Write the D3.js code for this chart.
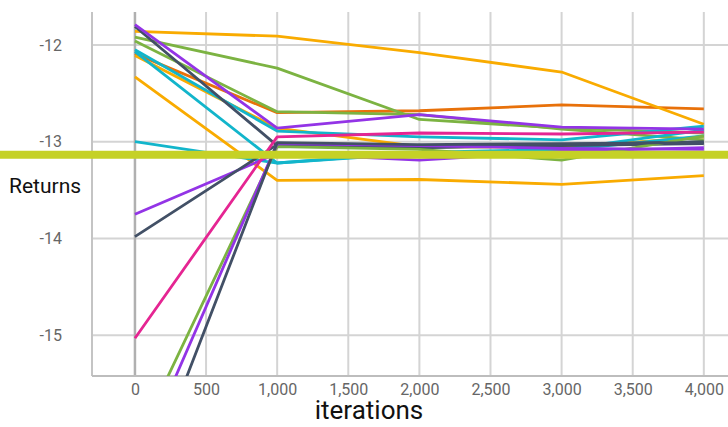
<!DOCTYPE html>
<html>
<head>
<meta charset="utf-8">
<script src="https://cdn.jsdelivr.net/npm/d3@7"></script>
<style>
  html, body { margin: 0; padding: 0; background: #fff; overflow: hidden; }
  text { font-family: Roboto, "Noto Sans", sans-serif; }
</style>
</head>
<body>
<div id="chart"></div>
<script>
// x positions of the evaluation points
const iterations = [0, 1000, 2000, 3000, 4000];

// returns per run
const orangeA    = [-11.86, -11.91, -12.08, -12.28, -12.82];
const purpleA    = [-11.79, -12.86, -12.72, -12.85, -12.87];
const slateA     = [-11.81, -13.04, -13.06, -13.04, -13.02];
const greenA     = [-11.92, -12.24, -12.77, -12.86, -12.91];
const greenB     = [-11.96, -12.69, -12.72, -12.87, -12.98];
const cyanA      = [-12.05, -12.89, -12.95, -12.98, -12.84];
const darkOrange = [-12.09, -12.70, -12.68, -12.62, -12.66];
const orangeB    = [-12.11, -12.86, -13.05, -13.06, -12.95];
const cyanB      = [-12.07, -13.22, -13.11, -13.08, -12.88];
const orangeC    = [-12.33, -13.40, -13.39, -13.44, -13.35];
const cyanC      = [-13.00, -13.22, -13.12, -13.09, -12.94];
const purpleB    = [-13.75, -13.12, -13.19, -13.10, -13.06];
const slateB     = [-13.98, -13.03, -13.06, -13.03, -13.00];
const pinkA      = [-15.03, -12.95, -12.91, -12.92, -12.90];
const greenC     = [-16.14, -13.05, -13.08, -13.19, -12.94];
const purpleC    = [-16.39, -13.02, -13.04, -13.07, -13.08];
const slateC     = [-16.81, -13.01, -13.03, -13.02, -13.01];

// horizontal reference level
const baseline = -13.135;

const xTicks = [0, 500, 1000, 1500, 2000, 2500, 3000, 3500, 4000];
const yTicks = [-12, -13, -14, -15];

const colors = {
  orange: "#f9ab00",
  darkOrange: "#e8710a",
  green: "#7cb342",
  cyan: "#12b5cb",
  purple: "#9334e6",
  pink: "#e52592",
  slate: "#425066",
  ref: "#c5d126"
};

const runs = [
  { values: orangeC, color: colors.orange },
  { values: darkOrange, color: colors.darkOrange },
  { values: orangeA, color: colors.orange },
  { values: orangeB, color: colors.orange },
  { values: greenA, color: colors.green },
  { values: greenB, color: colors.green },
  { values: cyanA, color: colors.cyan },
  { values: cyanB, color: colors.cyan },
  { values: cyanC, color: colors.cyan },
  { values: slateA, color: colors.slate },
  { values: purpleA, color: colors.purple },
  { values: purpleB, color: colors.purple },
  { values: slateB, color: colors.slate },
  { values: pinkA, color: colors.pink },
  { values: greenC, color: colors.green },
  { values: purpleC, color: colors.purple },
  { values: slateC, color: colors.slate }
];

const W = 728, H = 427;
const plot = { left: 92, top: 12, bottom: 376, right: 728 };

const x = d3.scaleLinear().domain([-302, 4170]).range([plot.left, plot.right]);
const y = d3.scaleLinear().domain([-15.42, -11.66]).range([plot.bottom, plot.top]);

const svg = d3.select("#chart").append("svg")
  .attr("width", W)
  .attr("height", H);

svg.append("defs").append("clipPath").attr("id", "plot-clip")
  .append("rect")
  .attr("x", plot.left).attr("y", plot.top)
  .attr("width", plot.right - plot.left).attr("height", plot.bottom - plot.top);

// grid lines
svg.append("g")
  .selectAll("line")
  .data(yTicks)
  .join("line")
  .attr("x1", plot.left).attr("x2", plot.right)
  .attr("y1", d => y(d)).attr("y2", d => y(d))
  .attr("stroke", "#d4d4d4")
  .attr("stroke-width", 2);

svg.append("g")
  .selectAll("line")
  .data(xTicks)
  .join("line")
  .attr("x1", d => x(d)).attr("x2", d => x(d))
  .attr("y1", plot.top).attr("y2", plot.bottom)
  .attr("stroke", d => d === 0 ? "#b0b0b0" : "#d4d4d4")
  .attr("stroke-width", d => d === 0 ? 2.5 : 2);

// left frame line
svg.append("line")
  .attr("x1", plot.left).attr("x2", plot.left)
  .attr("y1", plot.top).attr("y2", plot.bottom)
  .attr("stroke", "#c4c4c4")
  .attr("stroke-width", 2);

// x axis
const xAxis = svg.append("g")
  .attr("transform", `translate(0,${plot.bottom})`)
  .call(d3.axisBottom(x).tickValues(xTicks).tickFormat(d3.format(",")).tickSize(0).tickPadding(8));
xAxis.select(".domain").attr("stroke", "#bdbdbd").attr("stroke-width", 2)
  .attr("d", `M${plot.left},0H${plot.right}`);
xAxis.selectAll("text")
  .attr("fill", "#666")
  .style("font-size", "16px");

// y axis
const yAxis = svg.append("g")
  .attr("transform", `translate(${plot.left},0)`)
  .call(d3.axisLeft(y).tickValues(yTicks).tickFormat(d => String(d)).tickSize(0).tickPadding(30));
yAxis.select(".domain").remove();
yAxis.selectAll("text")
  .attr("fill", "#666")
  .style("font-size", "16px");

// run lines
const line = d3.line()
  .x((d, i) => x(iterations[i]))
  .y(d => y(d));

svg.append("g")
  .attr("clip-path", "url(#plot-clip)")
  .selectAll("path")
  .data(runs)
  .join("path")
  .attr("d", d => line(d.values))
  .attr("fill", "none")
  .attr("stroke", d => d.color)
  .attr("stroke-width", 2.8)
  .attr("stroke-linejoin", "round");

// reference level across the whole width
svg.append("line")
  .attr("x1", 0).attr("x2", W)
  .attr("y1", y(baseline)).attr("y2", y(baseline))
  .attr("stroke", colors.ref)
  .attr("stroke-width", 8);

// axis titles
svg.append("text")
  .attr("x", 9)
  .attr("y", 193)
  .style("font-size", "21px")
  .attr("fill", "#111")
  .text("Returns");

svg.append("text")
  .attr("x", 369)
  .attr("y", 419)
  .attr("text-anchor", "middle")
  .style("font-size", "26px")
  .attr("fill", "#111")
  .text("iterations");
</script>
</body>
</html>
